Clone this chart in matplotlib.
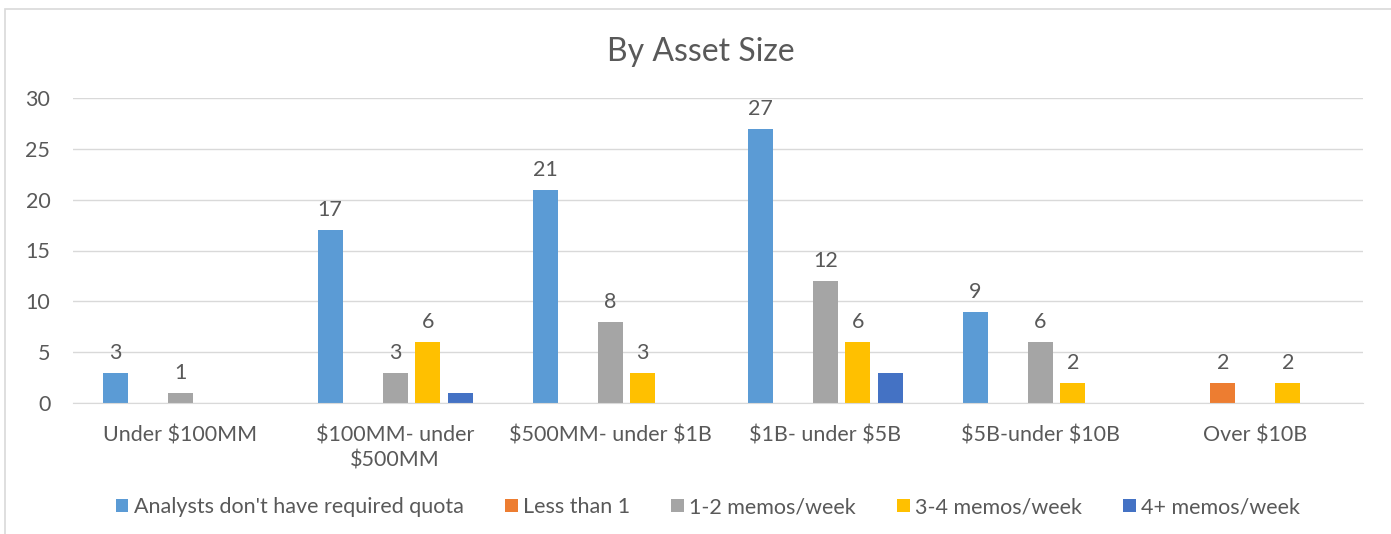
import numpy as np
import matplotlib.pyplot as plt
from matplotlib.patches import Rectangle

categories = ['Under \\$100MM', '\\$100MM- under\n\\$500MM', '\\$500MM- under \\$1B',
              '\\$1B- under \\$5B', '\\$5B-under \\$10B', 'Over \\$10B']
series_names = ["Analysts don't have required quota", 'Less than 1',
                '1-2 memos/week', '3-4 memos/week', '4+ memos/week']
no_quota = [3, 17, 21, 27, 9, 0]
less_than_1 = [0, 0, 0, 0, 0, 2]
memos_1_2 = [1, 3, 8, 12, 6, 0]
memos_3_4 = [0, 6, 3, 6, 2, 2]
memos_4_plus = [0, 1, 0, 3, 0, 0]
yticks = [0, 5, 10, 15, 20, 25, 30]

colors = ['#5B9BD5', '#ED7D31', '#A5A5A5', '#FFC000', '#4472C4']
show_labels = [True, True, True, True, False]
text_color = '#595959'

plt.rcParams['font.family'] = ['Lato', 'DejaVu Sans']

fig = plt.figure(figsize=(13.91, 5.34), dpi=100)
ax = fig.add_axes([72.5 / 1391, 131 / 534, 1290.5 / 1391, 305 / 534])

# chart border
fig.patches.append(Rectangle((5 / 1391, -0.1), 1.2, (534 - 9) / 534 + 0.1,
                             transform=fig.transFigure, fill=False,
                             edgecolor='#D9D9D9', linewidth=1.2))

x = np.arange(len(categories))
step = 32.5 / 215
width = 25 / 215
all_series = [no_quota, less_than_1, memos_1_2, memos_3_4, memos_4_plus]

for i, (name, vals) in enumerate(zip(series_names, all_series)):
    pos = x + (i - 2) * step
    bars = ax.bar(pos, vals, width=width, color=colors[i], label=name, zorder=3)
    if show_labels[i]:
        for b, v in zip(bars, vals):
            if v == 0:
                continue
            ax.annotate(str(v), (b.get_x() + b.get_width() / 2, v),
                        xytext=(0, 7), textcoords='offset points',
                        ha='center', va='bottom', fontsize=15.5, color=text_color)

ax.set_xlim(-0.5, len(categories) - 0.5)
ax.set_ylim(0, 30)
ax.set_yticks(yticks)
ax.set_xticks(x)
ax.set_xticklabels(categories, fontsize=15.5, color=text_color, linespacing=1.35)
ax.tick_params(axis='y', labelsize=15.5, labelcolor=text_color, length=0, pad=16)
ax.tick_params(axis='x', length=0, pad=16)
for lab in ax.get_xticklabels():
    lab.set_verticalalignment('top')

ax.grid(axis='y', color='#D9D9D9', linewidth=1, zorder=0)
for s in ['top', 'right', 'left']:
    ax.spines[s].set_visible(False)
ax.spines['bottom'].set_color('#D9D9D9')
ax.spines['bottom'].set_zorder(4)

fig.text(0.5035, (534 - 52) / 534, 'By Asset Size', ha='center', va='center',
         fontsize=23, color=text_color)

leg = fig.legend(loc='center', bbox_to_anchor=(708 / 1391, (534 - 507) / 534),
                 ncol=5, frameon=False, fontsize=15.5, handlelength=0.6,
                 handleheight=0.6, handletextpad=0.25, columnspacing=1.9)
for t in leg.get_texts():
    t.set_color(text_color)

fig.savefig('out.png', dpi=100)
